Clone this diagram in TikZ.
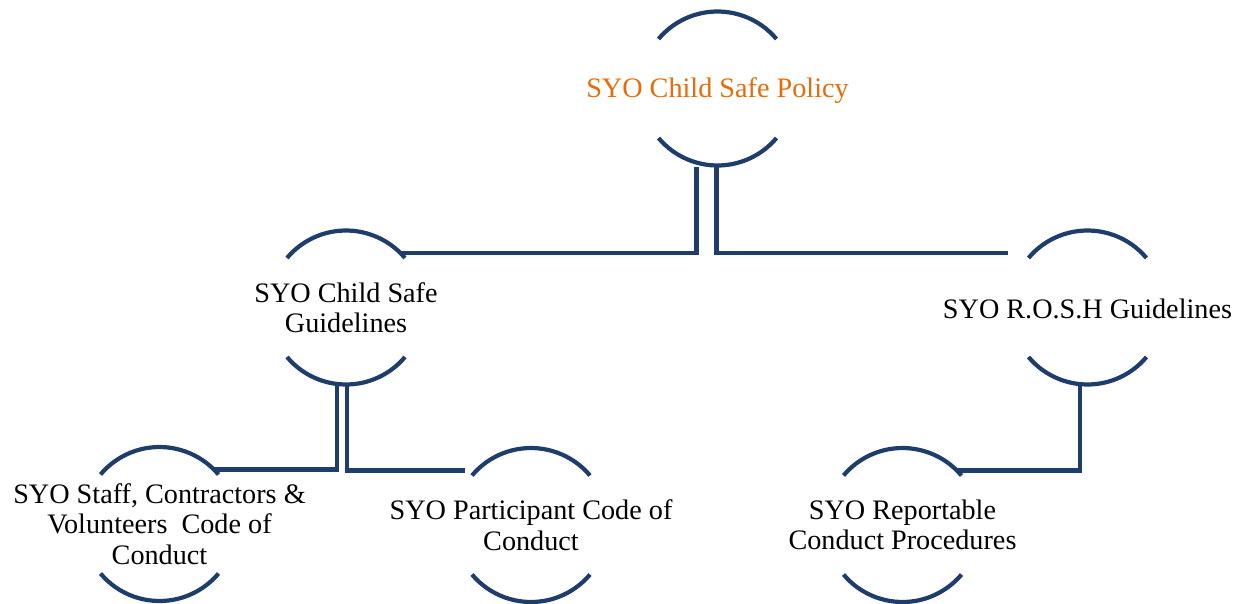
\documentclass[tikz,border=0pt]{standalone}
\usepackage{fontspec}
\setmainfont{Liberation Serif}
\definecolor{linec}{RGB}{31,61,106}
\definecolor{orangec}{RGB}{228,108,10}
\begin{document}
\begin{tikzpicture}[x=1pt,y=1pt,
  bub/.style={inner sep=0pt, align=center, font=\fontsize{28.2}{30.5}\selectfont},
  conn/.style={draw=linec, line width=4.2pt},
  rim/.style={draw=linec, line width=4.2pt}]
\useasboundingbox (0,0) rectangle (1240,-603);
\node[bub, text=orangec] (pol) at (717.5,-90.5) {SYO Child Safe Policy};
\node[bub] (csg) at (346,-307.5) {SYO Child Safe\\Guidelines};
\node[bub] (rosh) at (1087.5,-308.5) {SYO R.O.S.H Guidelines};
\node[bub] (staff) at (159.5,-524) {SYO Staff, Contractors \&\\Volunteers~ Code of\\Conduct};
\node[bub] (part) at (531,-525) {SYO Participant Code of\\Conduct};
\node[bub] (rep) at (902.5,-525) {SYO Reportable\\Conduct Procedures};
\foreach \n/\cy in {pol/-88.5,csg/-307.5,rosh/-307.5,staff/-524,part/-525,rep/-525}{
  \draw[rim] ([shift={(40:77pt)}]\n.center |- 0,\cy) arc[start angle=40,end angle=140,radius=77pt];
  \draw[rim] ([shift={(220:77pt)}]\n.center |- 0,\cy) arc[start angle=220,end angle=320,radius=77pt];
}
\draw[conn] ([xshift=-21pt,yshift=-76pt]pol.center) |- ([shift={(45:77pt)}]csg.center);
\draw[conn] ([xshift=-1pt,yshift=-76pt]pol.center) |- ([shift={(-79.5pt,55.5pt)}]rosh.center);
\draw[conn] ([xshift=-9pt,yshift=-78pt]csg.center) |- ([shift={(45:77pt)}]staff.center);
\draw[conn] ([xshift=1pt,yshift=-78pt]csg.center) |- ([shift={(-66pt,54.5pt)}]part.center);
\draw[conn] ([xshift=-7.5pt,yshift=-77pt]rosh.center) |- ([shift={(45:77pt)}]rep.center);
\end{tikzpicture}
\end{document}
